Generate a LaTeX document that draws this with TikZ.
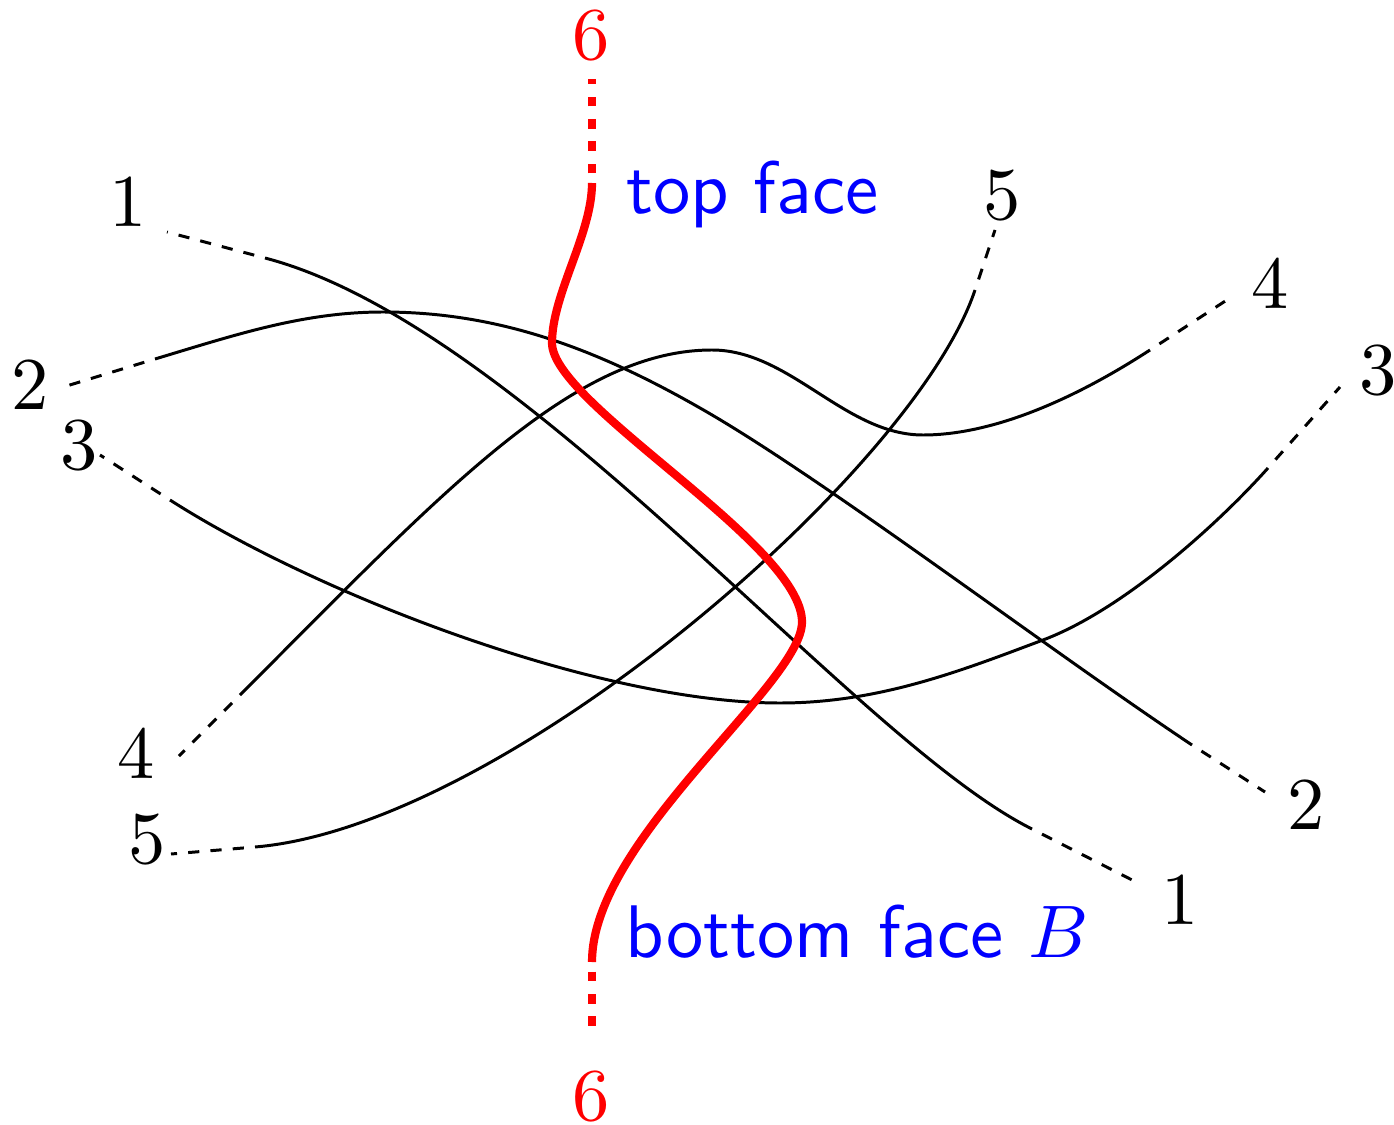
\documentclass[tikz,border=0pt]{standalone}
\usepackage{tikz}

\begin{document}
\begin{tikzpicture}[
        x=0.4717cm, y=0.4717cm,
        strand/.style = {line width=0.4pt},
        lead/.style = {line width=0.4pt, dash pattern=on 1.5pt off 1.5pt, dash phase=1.5pt},
        redstrand/.style = {draw=red, line width=1.1pt},
        redlead/.style = {draw=red, line width=1.1pt, dash pattern=on 1.3pt off 1.7pt, dash phase=1.7pt},
        num/.style = {inner sep=0pt},
        face/.style = {inner sep=0pt, anchor=base west, text=blue, font=\sffamily}
    ]
        \useasboundingbox (0,0) rectangle (13.94,11.24);

        % Numbers on the left
        \node (l1) [num] at (1.28,9.22) {$1$};
        \node (l2) [num] at (0.30,7.39) {$2$};
        \node (l3) [num] at (0.79,6.79) {$3$};
        \node (l4) [num] at (1.36,3.70) {$4$};
        \node (l5) [num] at (1.47,2.85) {$5$};

        % Numbers on the right
        \node (r1) [num] at (11.80,2.24) {$1$};
        \node (r2) [num] at (13.06,3.19) {$2$};
        \node (r3) [num] at (13.78,7.54) {$3$};
        \node (r4) [num] at (12.70,8.40) {$4$};
        \node (r5) [num] at (10.02,9.29) {$5$};

        % Red strand numbers
        \node (t6) [num, text=red] at (5.91,10.89) {$6$};
        \node (b6) [num, text=red] at (5.91,0.28) {$6$};

        % Faces
        \node (top) [face] at (6.25,9.11) {top face};
        \node (bot) [face] at (6.24,1.67) {bottom face $B$};

        % Ends of the solid parts
        \coordinate (a1) at (2.65,8.66);  \coordinate (p1) at (1.67,8.92);
        \coordinate (a2) at (1.55,7.65);  \coordinate (p2) at (0.60,7.36);
        \coordinate (a3) at (1.70,6.24);  \coordinate (p3) at (1.00,6.69);
        \coordinate (a4) at (2.40,4.29);  \coordinate (p4) at (1.79,3.68);
        \coordinate (a5) at (2.55,2.77);  \coordinate (p5) at (1.71,2.70);
        \coordinate (b1) at (10.32,2.95); \coordinate (q1) at (11.38,2.41);
        \coordinate (b2) at (11.92,3.79); \coordinate (q2) at (12.65,3.32);
        \coordinate (b3) at (12.68,6.56); \coordinate (q3) at (13.40,7.37);
        \coordinate (b4) at (11.50,7.74); \coordinate (q4) at (12.33,8.28);
        \coordinate (b5) at (9.75,8.34);  \coordinate (q5) at (9.95,8.94);
        \coordinate (a6) at (5.92,9.41);  \coordinate (p6) at (5.92,10.45);
        \coordinate (b6e) at (5.92,1.62); \coordinate (q6) at (5.92,0.86);

        % Dashed leads
        \foreach \i in {1,...,5} {
            \draw [lead] (a\i) -- (p\i);
            \draw [lead] (b\i) -- (q\i);
        }
        \draw [redlead] (a6) -- (p6);
        \draw [redlead] (b6e) -- (q6);

        % Strands
        \draw [strand] (a1) .. controls (5.25,7.98) and (8.52,3.85) .. (b1);
        \draw [strand] (a2) .. controls (2.35,7.89) and (3.03,8.12) .. (3.83,8.12)
                            .. controls (4.93,8.12) and (5.90,7.79) .. (7.00,7.16)
                            .. controls (8.20,6.48) and (10.42,4.79) .. (b2);
        \draw [strand] (a3) .. controls (3.20,5.28) and (6.00,4.21) .. (7.80,4.21)
                            .. controls (8.80,4.21) and (9.63,4.54) .. (10.43,4.84)
                            .. controls (11.23,5.14) and (12.18,6.00) .. (b3);
        \draw [strand] (a4) .. controls (4.40,6.29) and (5.72,7.74) .. (7.12,7.74)
                            .. controls (7.90,7.74) and (8.45,6.89) .. (9.23,6.89)
                            .. controls (9.90,6.89) and (10.70,7.22) .. (b4);
        \draw [strand] (a5) .. controls (5.05,2.98) and (9.15,6.54) .. (b5);

        % Red strand
        \draw [redstrand] (a6) .. controls (5.92,8.90) and (5.52,8.30) .. (5.52,7.81)
                               .. controls (5.52,7.20) and (8.02,5.80) .. (8.02,5.02)
                               .. controls (8.02,4.40) and (5.92,2.85) .. (b6e);

    \end{tikzpicture}
\end{document}
